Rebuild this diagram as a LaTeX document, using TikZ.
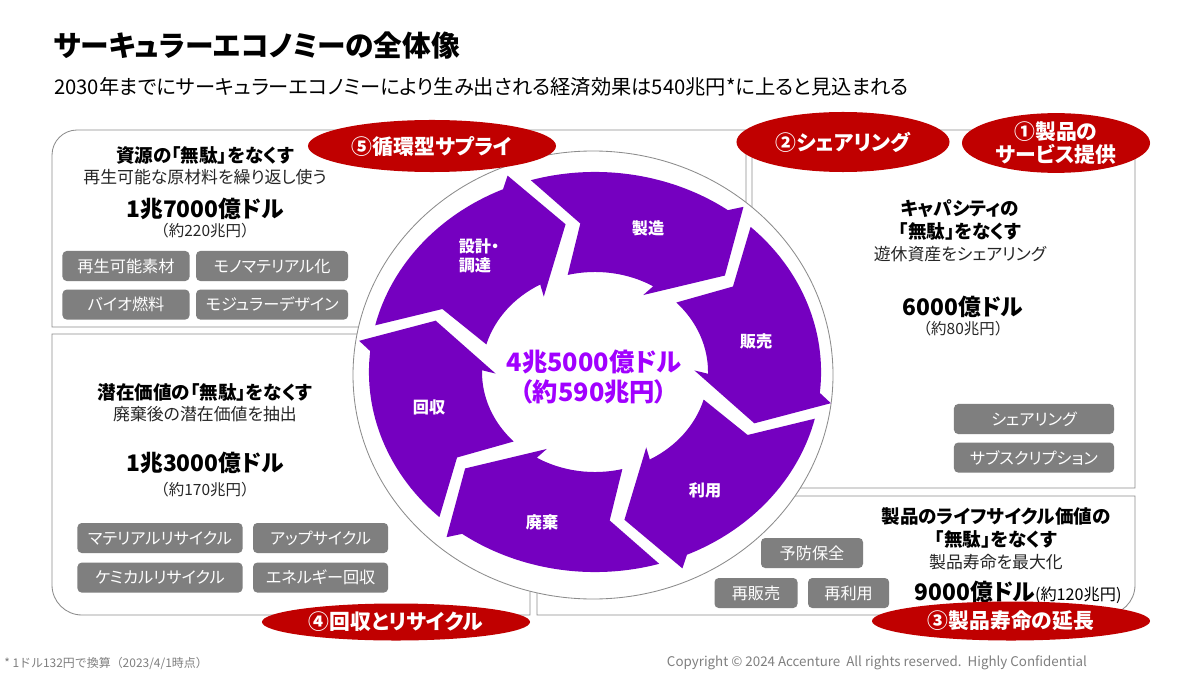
\documentclass[tikz,border=0pt]{standalone}
\usepackage{fontspec}
\setmainfont{Noto Sans CJK JP}[RawFeature={+palt}]
\newfontfamily\widejp{Noto Sans CJK JP}[Kerning=Off]
\usetikzlibrary{positioning,shapes.geometric}

\definecolor{ringpurple}{HTML}{7500C0}
\definecolor{totalpurple}{HTML}{A100FF}
\definecolor{capred}{HTML}{C00000}
\definecolor{taggray}{HTML}{7F7F7F}
\definecolor{linegray}{HTML}{8C8C8C}
\definecolor{notegray}{HTML}{7F7F7F}

\begin{document}
\begin{tikzpicture}[
  x=0.025cm, y=-0.025cm,
  panel/.style={draw=linegray, line width=0.6pt},
  tag/.style={fill=taggray, rounded corners=3pt, text=white, minimum height=0.75cm, inner sep=1pt, font=\fontsize{11.5pt}{12pt}\selectfont},
  head/.style={align=center, inner sep=0pt, font=\fontsize{13.2pt}{16.4pt}\selectfont\bfseries},
  note/.style={inner sep=0pt, text=black!85, font=\fontsize{12pt}{14pt}\selectfont},
  yen/.style={inner sep=0pt, text=black!85, font=\widejp\fontsize{11pt}{13pt}\selectfont},
  amount/.style={inner sep=0pt, font=\fontsize{16.2pt}{19pt}\selectfont\bfseries},
  phase/.style={align=left, inner sep=0pt, text=white, font=\fontsize{11.5pt}{14pt}\selectfont\bfseries},
  capsule/.style={ellipse, fill=capred, text=white, align=center, inner sep=0pt, font=\fontsize{14.8pt}{16pt}\selectfont\bfseries}
]
\useasboundingbox[fill=white] (0,0) rectangle (1200,675);

% title
\node[anchor=west, inner sep=0pt, font=\fontsize{20.4pt}{24pt}\selectfont\bfseries] (title) at (53,46) {サーキュラーエコノミーの全体像};
\node[anchor=west, inner sep=0pt, font=\fontsize{14.4pt}{17pt}\selectfont] (subtitle) at (54,87) {2030年までにサーキュラーエコノミーにより生み出される経済効果は540兆円*に上ると見込まれる};

% four panels
\draw[panel] (746,327) -- (52,327) -- (52,155) arc[start angle=180, end angle=270, radius=25] -- (746,130) -- cycle;
\draw[panel] (752,488) -- (752,130) -- (1105,130) arc[start angle=270, end angle=360, radius=30] -- (1135,488) -- cycle;
\draw[panel] (530,334) -- (52,334) -- (52,585) arc[start angle=180, end angle=90, radius=30] -- (530,615) -- cycle;
\draw[panel] (537,615) -- (537,496) -- (1135,496) -- (1135,585) arc[start angle=0, end angle=90, radius=30] -- cycle;

% circle and ring
\draw[draw=linegray, fill=white, line width=0.6pt] (593,375) ellipse [x radius=240, y radius=224];
\begin{scope}[shift={(595,372)}, x=5.65cm, y=5cm]
\foreach \t in {160,100,40,-20,-80,-140}{
  \fill[ringpurple] ({\t+6.5}:1) -- ({\t-5}:0.745) -- ({\t+4}:0.5)
    arc[start angle=\t+4, end angle=\t-41, radius=0.5]
    -- ({\t-39}:0.44) -- ({\t-60}:0.75) -- ({\t-48.5}:1.055) -- ({\t-46}:1)
    arc[start angle=\t-46, end angle=\t+6.5, radius=1] -- cycle;
}
\end{scope}

\node[phase] (design) at (479,256) {設計・\\調達};
\node[phase] (make) at (648,228) {製造};
\node[phase] (sell) at (756,341) {販売};
\node[phase] (use) at (705,490) {利用};
\node[phase] (dispose) at (542,522) {廃棄};
\node[phase] (collect) at (429,407) {回収};
\node[align=center, inner sep=0pt, text=totalpurple, font=\fontsize{18pt}{21pt}\selectfont\bfseries] (total) at (594,377) {4兆5000億ドル\\（約590兆円）};

% top left: circular supply
\node[head] (supplyhead) at (205,155) {資源の「無駄」をなくす};
\node[note] (supplynote) at (205,177) {再生可能な原材料を繰り返し使う};
\node[amount] (supplyusd) at (205,209) {1兆7000億ドル};
\node[yen] (supplyjpy) at (205,231) {（約220兆円）};
\node[tag, minimum width=3.175cm] (renew) at (126,266) {再生可能素材};
\node[tag, minimum width=3.8cm, right=0.15cm of renew] (mono) {モノマテリアル化};
\node[tag, minimum width=3.175cm, below=0.2cm of renew] (bio) {バイオ燃料};
\node[tag, minimum width=3.8cm, right=0.15cm of bio] (modular) {モジュラーデザイン};

% bottom left: recovery and recycling
\node[head] (recyclehead) at (205,392) {潜在価値の「無駄」をなくす};
\node[note] (recyclenote) at (205,414) {廃棄後の潜在価値を抽出};
\node[amount] (recycleusd) at (205,463) {1兆3000億ドル};
\node[yen] (recyclejpy) at (205,490) {（約170兆円）};
\node[tag, minimum width=4.125cm] (material) at (160,538) {マテリアルリサイクル};
\node[tag, minimum width=3.375cm, right=0.25cm of material] (upcycle) {アップサイクル};
\node[tag, minimum width=4.125cm, below=0.225cm of material] (chemical) {ケミカルリサイクル};
\node[tag, minimum width=3.375cm, right=0.25cm of chemical] (energy) {エネルギー回収};

% top right: sharing and product as a service
\node[head] (sharehead) at (960,220) {キャパシティの\\「無駄」をなくす};
\node[note] (sharenote) at (960,254) {遊休資産をシェアリング};
\node[amount] (shareusd) at (963,307) {6000億ドル};
\node[yen] (sharejpy) at (963,329) {（約80兆円）};
\node[tag, minimum width=4cm] (sharing) at (1034,419) {シェアリング};
\node[tag, minimum width=4cm, below=0.2cm of sharing] (subscr) {サブスクリプション};

% bottom right: product life extension
\node[head] (lifehead) at (996,528) {製品のライフサイクル価値の\\「無駄」をなくす};
\node[note] (lifenote) at (996,562) {製品寿命を最大化};
\node[inner sep=0pt] (lifeusd) at (1018,592) {\fontsize{16.2pt}{19pt}\selectfont\bfseries 9000億ドル\fontsize{11.5pt}{13pt}\selectfont\mdseries(約120兆円)};
\node[tag, minimum width=2.55cm] (maint) at (812,553) {予防保全};
\node[tag, minimum width=2.075cm] (resale) at (756,593) {再販売};
\node[tag, minimum width=2.025cm, right=0.25cm of resale] (reuse) {再利用};

% red labels
\node[capsule, minimum width=6.2cm, minimum height=1.3cm] (supply) at (432,146) {⑤循環型サプライ};
\node[capsule, minimum width=5.325cm, minimum height=1.5cm] (share) at (843,142) {②シェアリング};
\node[capsule, minimum width=4.7cm, minimum height=1.425cm] (service) at (1056,143) {①製品の\\サービス提供};
\node[capsule, minimum width=6.7cm, minimum height=0.925cm] (recycle) at (396,622) {④回収とリサイクル};
\node[capsule, minimum width=6.95cm, minimum height=0.975cm] (extend) at (1011,621) {③製品寿命の延長};

% footer
\node[anchor=west, inner sep=0pt, text=notegray, font=\widejp\fontsize{8.5pt}{10pt}\selectfont] (rate) at (4,663) {* 1ドル132円で換算（2023/4/1時点）};
\node[inner sep=0pt, text=notegray, font=\fontsize{9.5pt}{11pt}\selectfont] (copy) at (877,663) {Copyright © 2024 Accenture\ \ All rights reserved.\ \ Highly Confidential};
\end{tikzpicture}
\end{document}
